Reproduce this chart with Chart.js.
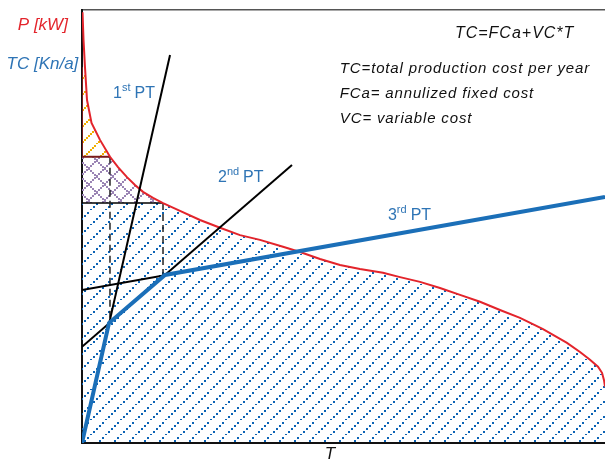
<!DOCTYPE html>
<html>
<head>
<meta charset="utf-8">
<script src="https://cdn.jsdelivr.net/npm/chart.js@4.4.1/dist/chart.umd.min.js"></script>
<style>
html, body { margin: 0; padding: 0; background: #fff; }
#wrap { width: 605px; height: 466px; }
</style>
</head>
<body>
<div id="wrap"><canvas id="ldcChart" width="605" height="466"></canvas></div>
<script>
// load duration curve: x = share of the year (%), y = load (% of scale)
const loadX = [0.1, 0.29, 0.57, 0.96, 1.82, 3.44, 5.35, 6.88, 8.60, 10.13, 11.66, 13.58, 15.49,
    18.74, 22.56, 26.39, 30.21, 34.03, 38.43, 41.68, 45.51, 49.33, 53.15, 57.55, 60.80, 64.63,
    68.45, 72.28, 76.10, 79.92, 83.75, 88.15, 92.73, 95.22, 97.13, 98.66, 99.43, 99.81, 100];
const loadY = [99.5, 93.1, 86.8, 79.2, 73.9, 70.0, 66.1, 63.7, 61.4, 59.6, 58.0, 56.6, 55.4,
    53.6, 51.5, 49.7, 48.0, 46.9, 45.3, 44.1, 42.5, 41.1, 40.2, 39.3, 38.3, 37.2,
    35.8, 34.2, 32.6, 30.7, 28.9, 26.3, 23.1, 21.0, 19.2, 17.6, 16.2, 14.5, 13.0];

// levels where the hatched bands change
const bandTop = 86.8;
const peakLevel = 66.1;
const midLevel = 55.4;

// total cost lines TC = FCa + VC*T of the three technologies
const pt1X = [0, 16.83];
const pt1Y = [0, 89.6];
const pt2X = [0, 40.15];
const pt2Y = [22.2, 64.2];
const pt3X = [0, 100];
const pt3Y = [35.3, 56.8];

// cheapest combination (thick blue)
const envX = [0, 5.16, 15.87, 100];
const envY = [0, 27.7, 38.8, 56.8];

// switching points (dashed)
const switchX = [5.35, 15.49];
const switchTop = [66.1, 55.4];
const switchBottom = [28.5, 38.8];

// x tick carrying the T label
const tickT = [47.4];

const FONT = "'Liberation Sans', Arial, sans-serif";
const RED = '#e3242b';
const BLUE = '#1b6fb8';
const TXT_BLUE = '#2e74b5';

function pts(xs, ys) {
    return xs.map((x, i) => ({ x: x, y: ys[i] }));
}

// part of the curve between two levels, closed to the y axis at the upper level
function band(hi, lo) {
    const out = [{ x: 0, y: hi }];
    loadX.forEach((x, i) => {
        if (loadY[i] <= hi && loadY[i] >= lo) out.push({ x: x, y: loadY[i] });
    });
    return out;
}

function hatch(color, size, cross, step) {
    const c = document.createElement('canvas');
    c.width = size;
    c.height = size;
    const g = c.getContext('2d');
    g.fillStyle = color;
    for (let i = 0; i < size; i += step) {
        g.fillRect(i, size - 1 - i, 2, 2);
        if (cross) g.fillRect(i, i, 2, 2);
    }
    return g.createPattern(c, 'repeat');
}

function lineSet(data, color, width, extra) {
    return Object.assign({
        data: data,
        borderColor: color,
        borderWidth: width,
        pointRadius: 0,
        fill: false,
        tension: 0
    }, extra || {});
}

// text notes, positions in data units
const notes = [
    { text: 'P [kW]', x: -2.7, y: 95.4, color: RED, font: 'italic 17px ' + FONT, align: 'right', sp: '0px' },
    { text: 'TC [Kn/a]', x: -0.7, y: 86.4, color: TXT_BLUE, font: 'italic 17px ' + FONT, align: 'right', sp: '0px' },
    { text: 'TC=FCa+VC*T', x: 71.3, y: 93.6, color: '#111', font: 'italic 16px ' + FONT, align: 'left', sp: '1px' },
    { text: 'TC=total production cost per year', x: 49.3, y: 85.45, color: '#111', font: 'italic 15px ' + FONT, align: 'left', sp: '0.85px' },
    { text: 'FCa= annulized fixed cost', x: 49.3, y: 79.7, color: '#111', font: 'italic 15px ' + FONT, align: 'left', sp: '0.85px' },
    { text: 'VC= variable cost', x: 49.3, y: 73.9, color: '#111', font: 'italic 15px ' + FONT, align: 'left', sp: '0.85px' }
];
const ptLabels = [
    { base: '1', sup: 'st', x: 5.93, y: 79.7 },
    { base: '2', sup: 'nd', x: 26.0, y: 60.3 },
    { base: '3', sup: 'rd', x: 58.5, y: 51.5 }
];

const notesPlugin = {
    id: 'notes',
    afterDatasetsDraw(chart) {
        const c = chart.ctx;
        const sx = chart.scales.x;
        const sy = chart.scales.y;
        c.save();
        c.textBaseline = 'alphabetic';
        notes.forEach(n => {
            c.font = n.font;
            c.fillStyle = n.color;
            c.textAlign = n.align;
            c.letterSpacing = n.sp;
            c.fillText(n.text, sx.getPixelForValue(n.x), sy.getPixelForValue(n.y));
        });
        c.letterSpacing = '0px';
        c.textAlign = 'left';
        c.fillStyle = TXT_BLUE;
        ptLabels.forEach(l => {
            let px = sx.getPixelForValue(l.x);
            const py = sy.getPixelForValue(l.y);
            c.font = '16px ' + FONT;
            c.fillText(l.base, px, py);
            px += c.measureText(l.base).width;
            c.font = '11px ' + FONT;
            c.fillText(l.sup, px, py - 7);
            px += c.measureText(l.sup).width + 4;
            c.font = '16px ' + FONT;
            c.fillText('PT', px, py);
        });
        c.restore();
    }
};

const datasets = [
    lineSet(pts(envX, envY), BLUE, 4),
    lineSet(pts(pt1X, pt1Y), '#000', 2),
    lineSet(pts(pt2X, pt2Y), '#000', 2),
    lineSet(pts(pt3X, pt3Y), '#000', 2),
    lineSet(pts(loadX, loadY), RED, 2),
    lineSet([{ x: switchX[0], y: switchTop[0] }, { x: switchX[0], y: switchBottom[0] }], '#222', 1.5, { borderDash: [7, 4] }),
    lineSet([{ x: switchX[1], y: switchTop[1] }, { x: switchX[1], y: switchBottom[1] }], '#222', 1.5, { borderDash: [7, 4] }),
    lineSet([{ x: 0, y: peakLevel }, { x: switchX[0], y: peakLevel }], '#7a1a1a', 2),
    lineSet([{ x: 0, y: bandTop }, { x: 0, y: peakLevel }], '#7a1a1a', 2),
    lineSet([{ x: 0, y: midLevel }, { x: switchX[1], y: midLevel }], '#000', 1.5),
    // hatched areas under the curve
    lineSet(band(bandTop, peakLevel), 'rgba(0,0,0,0)', 0, { fill: { value: peakLevel }, backgroundColor: hatch('#f0ae00', 16, false, 2) }),
    lineSet(band(peakLevel, midLevel), 'rgba(0,0,0,0)', 0, { fill: { value: midLevel }, backgroundColor: hatch('#9a84b4', 16, true, 2) }),
    lineSet(band(midLevel, 0), 'rgba(0,0,0,0)', 0, { fill: 'origin', backgroundColor: hatch('#0b63b5', 15, false, 3) })
];

const ctx = document.getElementById('ldcChart');
new Chart(ctx, {
    type: 'line',
    data: { datasets: datasets },
    options: {
        responsive: false,
        animation: false,
        events: [],
        layout: { padding: { left: 82, top: 10, right: 0, bottom: 0 } },
        plugins: {
            legend: { display: false },
            tooltip: { enabled: false }
        },
        scales: {
            x: {
                type: 'linear',
                min: 0,
                max: 100,
                grid: { display: false, drawTicks: false },
                border: { display: true, color: '#111', width: 2 },
                afterBuildTicks: axis => { axis.ticks = tickT.map(v => ({ value: v })); },
                ticks: {
                    autoSkip: false,
                    maxRotation: 0,
                    padding: 6,
                    color: '#111',
                    font: { family: FONT, size: 17, style: 'italic', lineHeight: 0.65 },
                    callback: () => 'T'
                }
            },
            xTop: {
                type: 'linear',
                position: 'top',
                display: true,
                min: 0,
                max: 100,
                grid: { display: false, drawTicks: false },
                border: { display: true, color: '#555', width: 1.5 },
                ticks: { display: false }
            },
            y: {
                type: 'linear',
                min: 0,
                max: 100,
                grid: { display: false, drawTicks: false },
                border: { display: true, color: '#111', width: 2 },
                ticks: { display: false }
            }
        }
    },
    plugins: [notesPlugin]
});
</script>
</body>
</html>
